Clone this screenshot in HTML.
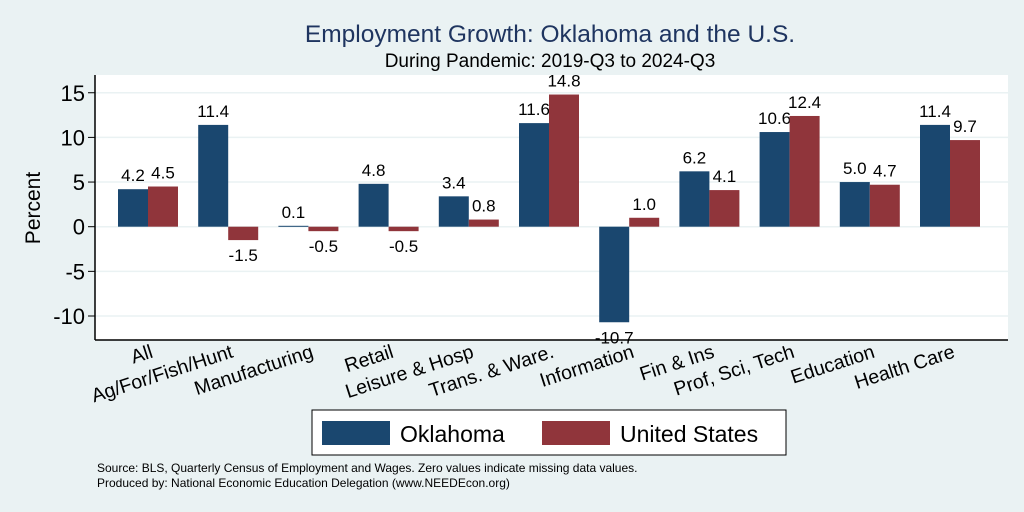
<!DOCTYPE html>
<html><head><meta charset="utf-8"><style>
body{margin:0;background:#eaf2f3;}
svg{display:block;font-family:"Liberation Sans",sans-serif;}
</style></head><body>
<svg width="1024" height="512">
<rect x="0" y="0" width="1024" height="512" fill="#eaf2f3"/>
<text x="550" y="42" text-anchor="middle" font-size="24.5" fill="#1f3560">Employment Growth: Oklahoma and the U.S.</text>
<text x="550" y="67" text-anchor="middle" font-size="19" fill="#000">During Pandemic: 2019-Q3 to 2024-Q3</text>
<rect x="95" y="75" width="913" height="265" fill="#fff"/>
<g id="grid"></g><g id="bars"></g><g id="axes"></g>
<text transform="translate(40,208) rotate(-90)" text-anchor="middle" font-size="21">Percent</text>
<g>
<rect x="312" y="410" width="474" height="45" fill="#fff" stroke="#000" stroke-width="1"/>
<rect x="322" y="421" width="68" height="24" fill="#1a476f"/>
<text x="400" y="442" font-size="23">Oklahoma</text>
<rect x="542" y="421" width="68" height="24" fill="#90353b"/>
<text x="620" y="442" font-size="23">United States</text>
</g>
<text x="97" y="472" font-size="12">Source: BLS, Quarterly Census of Employment and Wages. Zero values indicate missing data values.</text>
<text x="97" y="487" font-size="12">Produced by: National Economic Education Delegation (www.NEEDEcon.org)</text>
</svg>
<script>
const categories=["All","Ag/For/Fish/Hunt","Manufacturing","Retail","Leisure & Hosp","Trans. & Ware.","Information","Fin & Ins","Prof, Sci, Tech","Education","Health Care"];
const oklahoma=[4.2,11.4,0.1,4.8,3.4,11.6,-10.7,6.2,10.6,5.0,11.4];
const us=[4.5,-1.5,-0.5,-0.5,0.8,14.8,1.0,4.1,12.4,4.7,9.7];
const yTicks=[15,10,5,0,-5,-10];
const NS="http://www.w3.org/2000/svg";
function y(v){return 226.7-v*8.93;}
function xc(i){return 148+i*80.2;}
const BW=30;
function mk(tag,attrs,parent){const e=document.createElementNS(NS,tag);for(const k in attrs)e.setAttribute(k,attrs[k]);parent.appendChild(e);return e;}
const grid=document.getElementById('grid'),bars=document.getElementById('bars'),axes=document.getElementById('axes');
yTicks.forEach(t=>{
 const l=mk('line',{x1:95,x2:1008,y1:y(t),y2:y(t),stroke:'#eaf2f3','stroke-width':1.5},grid);
 
 
 mk('line',{x1:88,x2:95,y1:y(t),y2:y(t),stroke:'#000'},axes);
 const tx=mk('text',{x:85,y:y(t)+8,'text-anchor':'end','font-size':22},axes);
 tx.textContent=t;
 
 
});
mk('line',{x1:95,x2:95,y1:75,y2:340,stroke:'#000','stroke-width':1.5},axes);
mk('line',{x1:95,x2:1008,y1:340,y2:340,stroke:'#000','stroke-width':1.5},axes);
function lab(x,v,str){
 const t=mk('text',{x:x,y:v>=0?y(v)-8:y(v)+21,'text-anchor':'middle','font-size':17},bars);
 t.textContent=str;
 
 
}
categories.forEach((c,i)=>{
 const cx=xc(i);
 [[oklahoma[i],cx-BW,'#1a476f','bar-oklahoma'],[us[i],cx,'#90353b','bar-us']].forEach(([v,x,col,name])=>{
  const r=mk('rect',{x:x,y:Math.min(y(v),y(0)),width:BW,height:Math.max(Math.abs(y(v)-y(0)),1),fill:col},bars);
  
  
  lab(x+BW/2,v,v.toFixed(1));
 });
 const t=mk('text',{transform:`translate(${cx+6},${357}) rotate(-18)`,'text-anchor':'end','font-size':19.5},axes);
 t.textContent=c;
 
 
});
</script>
</body></html>
